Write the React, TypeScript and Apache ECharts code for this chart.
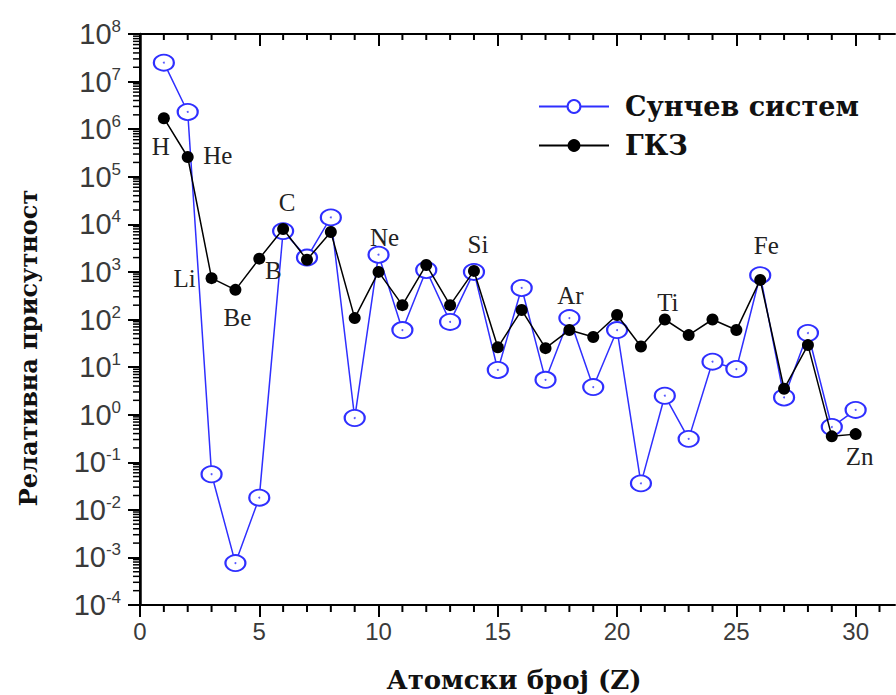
import React, { useEffect, useRef } from "react";
import * as echarts from "echarts";

// Atomic number Z on the horizontal axis
const atomicNumbers = [
  1, 2, 3, 4, 5, 6, 7, 8, 9, 10, 11, 12, 13, 14, 15,
  16, 17, 18, 19, 20, 21, 22, 23, 24, 25, 26, 27, 28, 29, 30,
];

// Relative abundance in the Solar System
const solarSystem = [
  2.5e7, 2.3e6, 0.056, 7.6e-4, 0.018, 7.2e3, 2.0e3, 1.4e4, 0.85, 2.3e3,
  60, 1.1e3, 89, 1.0e3, 8.7, 460, 5.4, 107, 3.8, 60,
  0.036, 2.5, 0.31, 13, 9.1, 850, 2.3, 52, 0.55, 1.26,
];

// Relative abundance in ГКЗ
const gkz = [
  1.7e6, 2.6e5, 740, 420, 1.9e3, 8.0e3, 1.8e3, 6.9e3, 107, 1.0e3,
  200, 1.4e3, 200, 1.05e3, 26, 158, 25, 60, 43, 124,
  27, 100, 47, 100, 60, 680, 3.5, 29, 0.35, 0.39,
];

// Chemical symbols written next to selected points
const elementLabels = [
  "H", "He", "Li", "Be", "B", "C", "", "", "", "Ne",
  "", "", "", "Si", "", "", "", "Ar", "", "",
  "", "Ti", "", "", "", "Fe", "", "", "", "Zn",
];

// Tick labels
const xTickValues = [0, 5, 10, 15, 20, 25, 30];
const yTickExponents = [-4, -3, -2, -1, 0, 1, 2, 3, 4, 5, 6, 7, 8];

const seriesNames = ["Сунчев систем", "ГКЗ"];
const xTitle = "Атомски број (Z)";
const yTitle = "Релативна присутност";

// Placement of each symbol relative to its point (px)
const labelOffsets: Record<string, [number, number]> = {
  H: [-3, 28],
  He: [30, -2],
  Li: [-27, 0],
  Be: [2, 28],
  B: [14, 12],
  C: [4, -26],
  Ne: [6, -34],
  Si: [4, -26],
  Ar: [1, -35],
  Ti: [3, -17],
  Fe: [6, -34],
  Zn: [4, 22],
};

const X_MIN = 0;
const X_MAX = 31.65;
const Y_MIN = 1e-4;
const Y_MAX = 1e8;

const SERIF = "Liberation Serif";
const TITLE_SERIF = "DejaVu Serif";
const SANS = "Liberation Sans";
const BLUE = "#2f2fff";

export default function App() {
  const ref = useRef<HTMLDivElement>(null);

  useEffect(() => {
    if (!ref.current) return;
    const chart = echarts.init(ref.current, undefined, { renderer: "svg" });

    const yDecades = yTickExponents.map((e) => Math.pow(10, e));
    // minor ticks at 2..9 within every decade
    const yMinor: number[][] = [];
    for (let i = 0; i < yTickExponents.length - 1; i++) {
      for (let k = 2; k <= 9; k++) {
        yMinor.push([X_MIN, k * Math.pow(10, yTickExponents[i])]);
      }
    }
    // minor ticks at every whole Z
    const xMinor: number[][] = [];
    for (let z = 1; z < X_MAX; z++) {
      if (z % 5 !== 0) xMinor.push([z, Y_MIN]);
    }

    const solarData = atomicNumbers.map((z, i) => [z, solarSystem[i]]);
    const gkzData = atomicNumbers.map((z, i) => {
      const sym = elementLabels[i];
      if (!sym) return [z, gkz[i]];
      return {
        value: [z, gkz[i]],
        label: {
          show: true,
          position: "inside",
          formatter: sym,
          offset: labelOffsets[sym],
        },
      };
    });

    const option: any = {
      animation: false,
      backgroundColor: "#ffffff",
      grid: { left: 140, right: 1, top: 34, bottom: 90, containLabel: false },
      legend: {
        data: [{ name: seriesNames[0] }, { name: seriesNames[1] }],
        orient: "vertical",
        left: 533,
        top: 88,
        itemWidth: 70,
        itemHeight: 16,
        itemGap: 12,
        textStyle: {
          fontFamily: TITLE_SERIF,
          fontWeight: "bold",
          fontSize: 27,
          color: "#111",
          padding: [0, 0, 0, 11],
        },
      },
      xAxis: [
        {
          type: "value",
          min: X_MIN,
          max: X_MAX,
          position: "bottom",
          axisLine: { lineStyle: { color: "#000", width: 2 } },
          axisTick: {
            customValues: xTickValues,
            length: 12,
            lineStyle: { color: "#000", width: 2 },
          },
          axisLabel: {
            customValues: xTickValues,
            fontFamily: SANS,
            fontSize: 24,
            color: "#3a3a3a",
            margin: 14,
          },
          splitLine: { show: false },
        },
        {
          type: "value",
          min: X_MIN,
          max: X_MAX,
          position: "top",
          axisLine: { lineStyle: { color: "#000", width: 2 } },
          axisTick: {
            customValues: xTickValues,
            inside: true,
            length: 12,
            lineStyle: { color: "#000", width: 2 },
          },
          axisLabel: { show: false },
          splitLine: { show: false },
        },
      ],
      yAxis: [
        {
          type: "log",
          logBase: 10,
          min: Y_MIN,
          max: Y_MAX,
          position: "left",
          axisLine: { lineStyle: { color: "#000", width: 2.5 } },
          axisTick: {
            customValues: yDecades,
            length: 12,
            lineStyle: { color: "#000", width: 2 },
          },
          axisLabel: {
            customValues: yDecades,
            margin: 19,
            formatter: (v: number) =>
              `{b|10}{s|${Math.round(Math.log10(v))}}`,
            rich: {
              b: { fontFamily: SANS, fontSize: 29, color: "#3a3a3a", lineHeight: 32 },
              s: { fontFamily: SANS, fontSize: 17, color: "#3a3a3a", verticalAlign: "top" },
            },
          },
          splitLine: { show: false },
        },
        {
          type: "log",
          logBase: 10,
          min: Y_MIN,
          max: Y_MAX,
          position: "right",
          axisLine: { lineStyle: { color: "#000", width: 2 } },
          axisTick: {
            customValues: yDecades,
            inside: true,
            length: 4,
            lineStyle: { color: "#000", width: 2 },
          },
          axisLabel: { show: false },
          splitLine: { show: false },
        },
      ],
      graphic: [
        {
          type: "text",
          x: 28,
          y: 348,
          rotation: Math.PI / 2,
          style: {
            text: yTitle,
            fontFamily: TITLE_SERIF,
            fontWeight: "bold",
            fontSize: 24,
            fill: "#111",
            textAlign: "center",
            textVerticalAlign: "middle",
          },
        },
        {
          type: "text",
          x: 514,
          y: 680,
          style: {
            text: xTitle,
            fontFamily: TITLE_SERIF,
            fontWeight: "bold",
            fontSize: 26,
            fill: "#111",
            textAlign: "center",
            textVerticalAlign: "middle",
          },
        },
      ],
      series: [
        {
          type: "custom",
          silent: true,
          clip: false,
          data: yMinor,
          renderItem: (_p: any, api: any) => {
            const pt = api.coord([api.value(0), api.value(1)]);
            return {
              type: "line",
              shape: { x1: pt[0] - 7, y1: pt[1], x2: pt[0], y2: pt[1] },
              style: { stroke: "#000", lineWidth: 1.5 },
            };
          },
        },
        {
          type: "custom",
          silent: true,
          clip: false,
          data: xMinor,
          renderItem: (_p: any, api: any) => {
            const bottom = api.coord([api.value(0), Y_MIN]);
            const top = api.coord([api.value(0), Y_MAX]);
            return {
              type: "group",
              children: [
                {
                  type: "line",
                  shape: { x1: bottom[0], y1: bottom[1], x2: bottom[0], y2: bottom[1] + 7 },
                  style: { stroke: "#000", lineWidth: 2 },
                },
                {
                  type: "line",
                  shape: { x1: top[0], y1: top[1], x2: top[0], y2: top[1] + 6 },
                  style: { stroke: "#000", lineWidth: 2 },
                },
              ],
            };
          },
        },
        {
          name: seriesNames[0],
          type: "line",
          data: solarData,
          symbol: "emptyCircle",
          symbolSize: [20, 16],
          z: 3,
          lineStyle: { color: BLUE, width: 1.5 },
          itemStyle: { color: BLUE, borderWidth: 1.5 },
        },
        {
          name: "center",
          type: "scatter",
          data: solarData,
          symbol: "circle",
          symbolSize: 2,
          z: 4,
          silent: true,
          itemStyle: { color: BLUE },
        },
        {
          name: seriesNames[1],
          type: "line",
          data: gkzData,
          symbol: "circle",
          symbolSize: 12,
          z: 5,
          lineStyle: { color: "#000", width: 1.5 },
          itemStyle: { color: "#000" },
          label: {
            fontFamily: SERIF,
            fontSize: 25,
            color: "#222",
          },
        },
      ],
    };

    chart.setOption(option);
    return () => chart.dispose();
  }, []);

  return (
    <div
      ref={ref}
      style={{ position: "fixed", left: 0, top: 0, width: 896, height: 695, background: "#fff" }}
    />
  );
}
